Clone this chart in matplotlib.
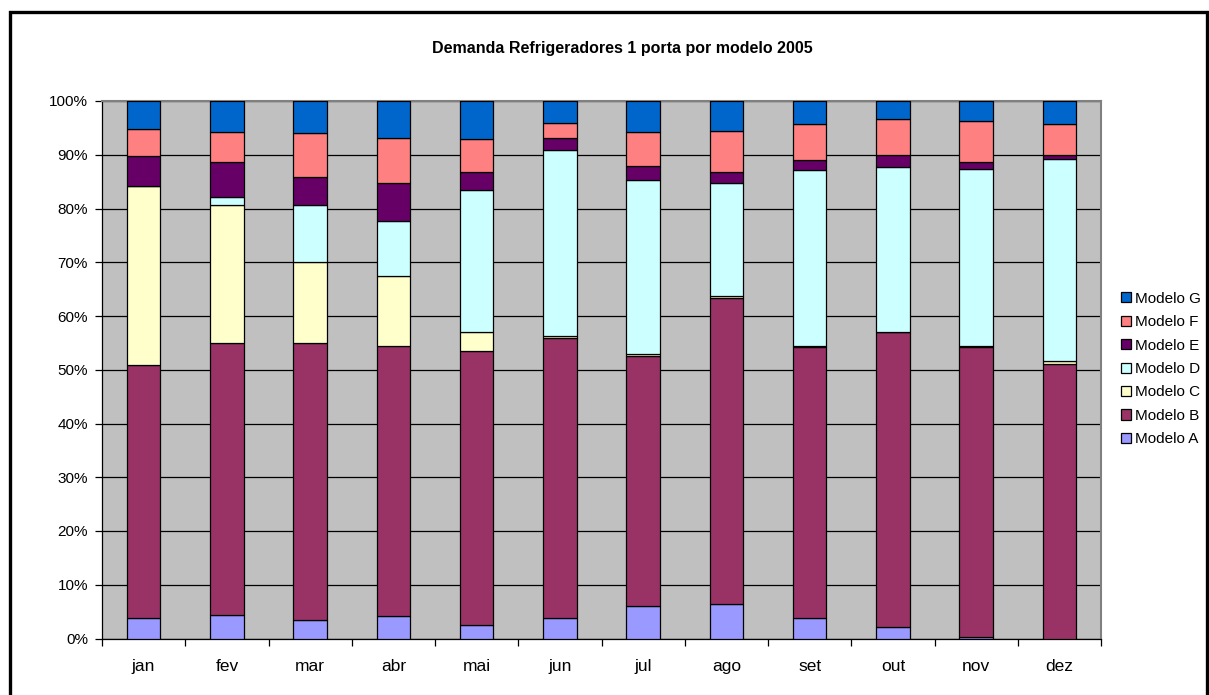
import matplotlib
matplotlib.use("Agg")
import matplotlib.pyplot as plt
import numpy as np
from matplotlib.patches import Rectangle, Patch

plt.rcParams['font.family'] = ['Liberation Sans', 'DejaVu Sans']

months = ["jan", "fev", "mar", "abr", "mai", "jun", "jul", "ago", "set", "out", "nov", "dez"]
series_names = ["Modelo A", "Modelo B", "Modelo C", "Modelo D", "Modelo E", "Modelo F", "Modelo G"]

modelo_a = [3.9, 4.3, 3.4, 4.2, 2.5, 3.9, 6.0, 6.5, 3.9, 2.2, 0.2, 0.0]
modelo_b = [47.0, 50.6, 51.6, 50.2, 51.0, 52.0, 46.5, 56.8, 50.4, 54.8, 54.1, 51.1]
modelo_c = [33.3, 25.7, 15.1, 13.0, 3.5, 0.4, 0.5, 0.5, 0.1, 0.1, 0.2, 0.6]
modelo_d = [0.0, 1.5, 10.5, 10.2, 26.5, 34.6, 32.3, 20.9, 32.8, 30.6, 32.9, 37.5]
modelo_e = [5.6, 6.6, 5.3, 7.1, 3.3, 2.2, 2.6, 2.1, 1.9, 2.2, 1.3, 0.8]
modelo_f = [4.9, 5.5, 8.2, 8.4, 6.1, 2.9, 6.3, 7.6, 6.7, 6.8, 7.6, 5.7]
modelo_g = [5.3, 5.8, 5.9, 6.9, 7.1, 4.0, 5.8, 5.6, 4.2, 3.3, 3.7, 4.3]

colors = ["#9999FF", "#993366", "#FFFFCC", "#CCFFFF", "#660066", "#FF8080", "#0066CC"]

W, H = 1209, 695
fig = plt.figure(figsize=(W / 100, H / 100), dpi=100)
fig.patch.set_facecolor("white")

left, right, top, bottom = 102, 1101, 101, 638.5
ax = fig.add_axes([left / W, 1 - bottom / H, (right - left) / W, (bottom - top) / H])
ax.set_facecolor("#C0C0C0")

data = np.array([modelo_a, modelo_b, modelo_c, modelo_d, modelo_e, modelo_f, modelo_g])
totals = data.sum(axis=0)
pct = data / totals * 100

x = np.arange(len(months))
base = np.zeros(len(months))
handles = []
for i, name in enumerate(series_names):
    ax.bar(x, pct[i], bottom=base, width=0.4, color=colors[i],
           edgecolor="black", linewidth=0.9, zorder=3)
    base += pct[i]
    handles.append(Patch(facecolor=colors[i], edgecolor="black", linewidth=0.9, label=name))

ax.set_xlim(-0.5, len(months) - 0.5)
ax.set_ylim(0, 100)
ax.set_yticks(np.arange(0, 101, 10))
ax.set_yticklabels([f"{v}%" for v in range(0, 101, 10)], fontsize=11)
ax.yaxis.grid(True, color="black", linewidth=0.9, zorder=1)
ax.set_axisbelow(True)

ax.set_xticks(x)
ax.set_xticklabels(months, fontsize=12.5)
ax.set_xticks(np.arange(-0.5, len(months), 1), minor=True)
ax.tick_params(axis="x", which="major", length=0, pad=15)
ax.tick_params(axis="x", which="minor", length=5, width=0.9, direction="out", color="black")
ax.tick_params(axis="y", length=5, width=0.9, direction="out", color="black", pad=5)

for s in ["left", "bottom"]:
    ax.spines[s].set_color("black")
    ax.spines[s].set_linewidth(0.9)
for s in ["top", "right"]:
    ax.spines[s].set_color("#808080")
    ax.spines[s].set_linewidth(1.5)

fig.text(622 / W, 1 - 48 / H, "Demanda Refrigeradores 1 porta por modelo 2005",
         ha="center", va="center", fontsize=11.5, fontweight="bold")

leg = fig.legend(handles=handles[::-1], loc="center left",
                 bbox_to_anchor=(1110 / W, 1 - 369 / H), frameon=False,
                 fontsize=11, handlelength=0.65, handleheight=0.65,
                 handletextpad=0.3, labelspacing=0.62, borderpad=0.2)

fig.add_artist(Rectangle((9.5 / W, -0.05), (1206.5 - 9.5) / W, 1.05 - 11.5 / H,
                         transform=fig.transFigure, fill=False,
                         edgecolor="black", linewidth=2.4))

fig.savefig("out.png", dpi=100)
